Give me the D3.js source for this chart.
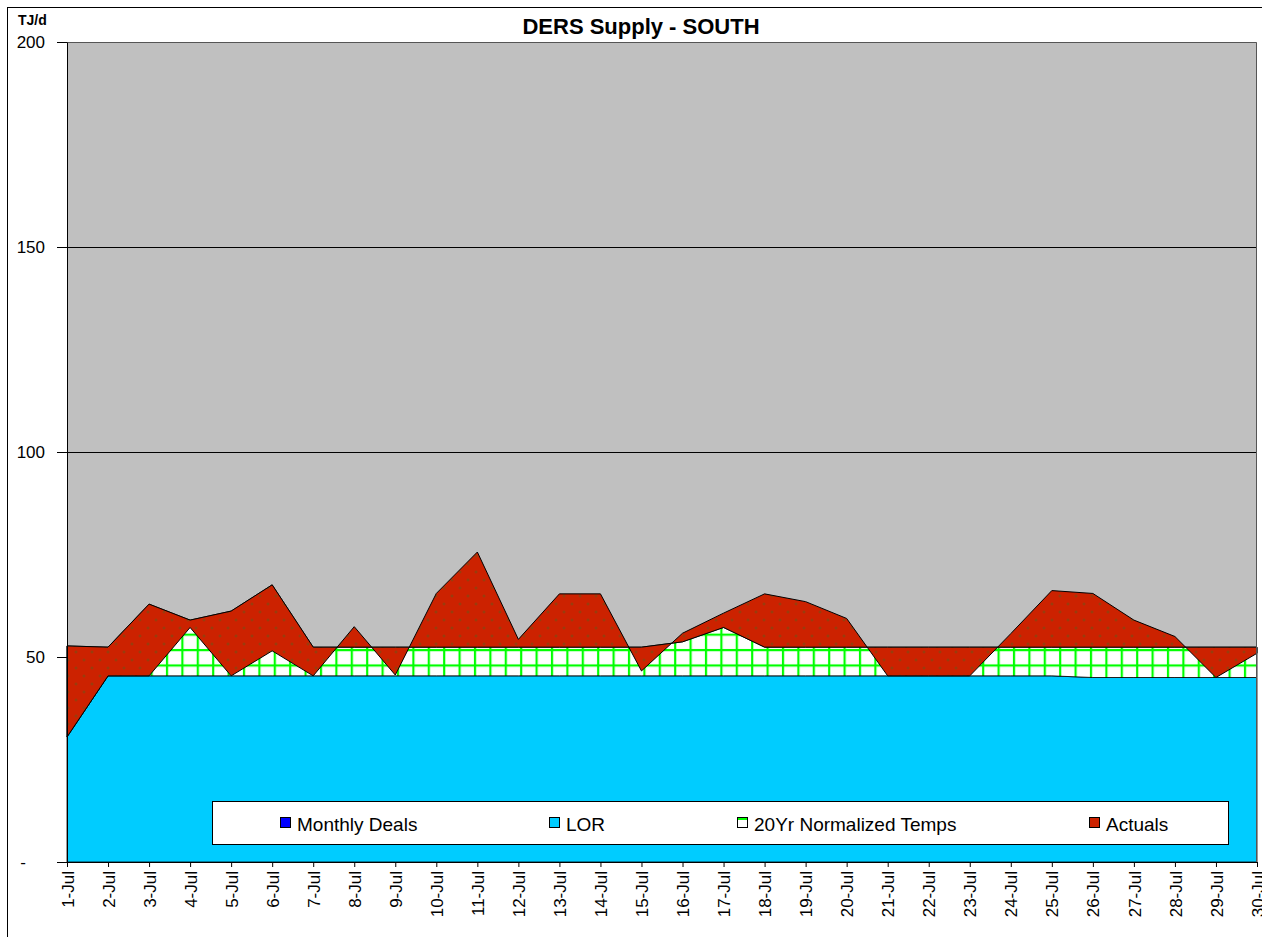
<!DOCTYPE html>
<html><head><meta charset="utf-8">
<script src="https://cdn.jsdelivr.net/npm/d3@7"></script>
<style>
body{margin:0;background:#fff;}
text{font-family:Arial,"Liberation Sans",sans-serif;fill:#000;}
</style></head><body>
<svg id="chart" width="1262" height="937"></svg>
<script>
const days = ["1-Jul","2-Jul","3-Jul","4-Jul","5-Jul","6-Jul","7-Jul","8-Jul","9-Jul","10-Jul",
  "11-Jul","12-Jul","13-Jul","14-Jul","15-Jul","16-Jul","17-Jul","18-Jul","19-Jul","20-Jul",
  "21-Jul","22-Jul","23-Jul","24-Jul","25-Jul","26-Jul","27-Jul","28-Jul","29-Jul","30-Jul"];
const monthlyDeals = [0,0,0,0,0,0,0,0,0,0,0,0,0,0,0,0,0,0,0,0,0,0,0,0,0,0,0,0,0,0];
const lor = [30.5,45.4,45.4,45.4,45.4,45.4,45.4,45.4,45.4,45.4,45.4,45.4,45.4,45.4,45.4,
  45.4,45.4,45.4,45.4,45.4,45.4,45.4,45.4,45.4,45.4,45.0,45.0,45.0,45.0,45.0];
// cumulative levels (stacked tops)
const normalizedTemps = [52.7,52.4,62.9,59.0,61.2,67.6,52.4,52.4,52.4,52.4,52.4,52.4,52.4,52.4,52.4,
  53.7,57.2,52.4,52.4,52.4,52.4,52.4,52.4,52.4,52.4,52.4,52.4,52.4,52.4,52.4];
const actuals = [30.5,45.4,45.4,57.2,45.4,51.5,45.4,57.4,45.6,65.5,75.6,54.3,65.4,65.4,46.6,
  55.8,60.7,65.4,63.5,59.4,45.4,45.4,45.4,55.7,66.2,65.5,59.0,55.0,45.0,50.9];
const yTicks = [0,50,100,150,200];
const seriesNames = ["Monthly Deals","LOR","20Yr Normalized Temps","Actuals"];
const title = "DERS Supply - SOUTH";
const unitLabel = "TJ/d";

const svg = d3.select("#chart");
const L = 67, R = 1257, T = 42, B = 862;
const x = d3.scalePoint().domain(days).range([L, R]);
const y = d3.scaleLinear().domain([0, 200]).range([B, T]);

const defs = svg.append("defs");
const pg = defs.append("pattern").attr("id","gridPat").attr("patternUnits","userSpaceOnUse")
  .attr("x",12.9).attr("y",3.2).attr("width",15.4).attr("height",15.4);
pg.append("rect").attr("width",15.4).attr("height",15.4).attr("fill","#fff");
pg.append("rect").attr("x",-1).attr("y",0).attr("width",2.2).attr("height",15.4).attr("fill","#00ff00");
pg.append("rect").attr("x",14.4).attr("y",0).attr("width",1.2).attr("height",15.4).attr("fill","#00ff00");
pg.append("rect").attr("x",0).attr("y",-1).attr("width",15.4).attr("height",2.2).attr("fill","#00ff00");
pg.append("rect").attr("x",0).attr("y",14.4).attr("width",15.4).attr("height",1.2).attr("fill","#00ff00");
const pr = defs.append("pattern").attr("id","redPat").attr("patternUnits","userSpaceOnUse")
  .attr("width",16).attr("height",16);
pr.append("rect").attr("width",16).attr("height",16).attr("fill","#cc2200");
[[4,4],[12,12]].forEach(([a,b])=>{
  pr.append("rect").attr("x",a-1.5).attr("y",b-0.5).attr("width",3).attr("height",1).attr("fill","#8a4410");
  pr.append("rect").attr("x",a-0.5).attr("y",b-1.5).attr("width",1).attr("height",3).attr("fill","#8a4410");
});

// outer border
svg.append("rect").attr("x",7.5).attr("y",7.5).attr("width",1400).attr("height",1100)
  .attr("fill","none").attr("stroke","#000").attr("stroke-width",1);

// plot background
svg.append("rect").attr("x",L).attr("y",T).attr("width",R-L).attr("height",B-T).attr("fill","#c0c0c0");

// gridlines
svg.append("g").selectAll("line").data(yTicks.filter(d=>d>0 && d<200)).join("line")
  .attr("x1",L).attr("x2",R).attr("y1",d=>y(d)+0.5).attr("y2",d=>y(d)+0.5)
  .attr("stroke","#000").attr("stroke-width",1);

const idx = d3.range(days.length);
function band(lo, hi){
  return d3.area().x(i=>x(days[i])).y0(i=>y(lo[i])).y1(i=>y(hi[i]))(idx);
}
const zero = monthlyDeals;
const g = svg.append("g");
g.append("path").attr("d", band(zero, monthlyDeals)).attr("fill","#0000ff").attr("stroke","#000").attr("stroke-width",0.8);
g.append("path").attr("d", band(monthlyDeals, lor)).attr("fill","#00ccff").attr("stroke","#000").attr("stroke-width",0.8);
g.append("path").attr("d", band(lor, normalizedTemps)).attr("fill","url(#gridPat)").attr("stroke","#000").attr("stroke-width",0.8);
g.append("path").attr("d", band(normalizedTemps, actuals)).attr("fill","url(#redPat)").attr("stroke","#000").attr("stroke-width",1);

// plot border (top/right)
svg.append("path").attr("d",`M${L},${T+0.5}H${R-0.5}V${B}`).attr("fill","none").attr("stroke","#555").attr("stroke-width",1);

// axes
const yAxis = svg.append("g").attr("transform",`translate(${L},0)`)
  .call(d3.axisLeft(y).tickValues(yTicks).tickSize(10).tickSizeOuter(0).tickPadding(12)
    .tickFormat(d=> d===0 ? "-" : d3.format("d")(d)));
yAxis.selectAll("text").style("font-size","17px").attr("fill","#000");
yAxis.selectAll(".tick").filter(d=>d===0).select("text").attr("x",-44).style("text-anchor","middle");
yAxis.selectAll("line,path").attr("stroke","#000");

const xAxis = svg.append("g").attr("transform",`translate(0,${B})`)
  .call(d3.axisBottom(x).tickSize(5).tickSizeOuter(0).tickPadding(8));
xAxis.selectAll("text").style("font-size","17px").attr("fill","#000")
  .attr("transform","rotate(-90)").attr("x",-9).attr("y",0).attr("dy","0.36em").style("text-anchor","end");
xAxis.selectAll("line,path").attr("stroke","#000");

// title & unit
svg.append("text").attr("x",641).attr("y",34).attr("text-anchor","middle")
  .style("font-size","22px").style("font-weight","bold").text(title);
svg.append("text").attr("x",18).attr("y",25).style("font-size","14px").style("font-weight","bold").text(unitLabel);

// legend
const lg = svg.append("g");
lg.append("rect").attr("x",212.5).attr("y",801.5).attr("width",1016).attr("height",43)
  .attr("fill","#fff").attr("stroke","#000");
const legX = [280, 549, 737, 1089];
const legFill = ["#0000ff","#00ccff","#fff","#cc2200"];
seriesNames.forEach((n,i)=>{
  lg.append("rect").attr("x",legX[i]+0.5).attr("y",817.5).attr("width",10).attr("height",10)
    .attr("fill",legFill[i]).attr("stroke","#000").attr("stroke-width",1);
  if(i===2){
    lg.append("rect").attr("x",legX[i]+1).attr("y",818).attr("width",9).attr("height",2).attr("fill","#00ff00");
  }
  lg.append("text").attr("x",legX[i]+17).attr("y",831).style("font-size","19px").text(n);
});
</script>
</body></html>
